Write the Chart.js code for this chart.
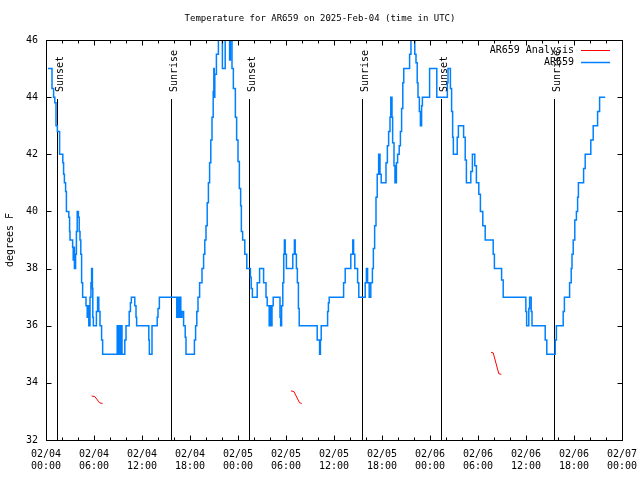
<!DOCTYPE html>
<html>
<head>
<meta charset="utf-8">
<title>Temperature for AR659</title>
<script src="https://cdn.jsdelivr.net/npm/chart.js@4.4.0/dist/chart.umd.min.js"></script>
<style>
html, body { margin: 0; padding: 0; background: #fff; }
</style>
</head>
<body>
<canvas id="tempChart" width="640" height="480"></canvas>
<script>
// ---------- data (hours since 02/04 00:00 UTC) ----------
// AR659 observed temperature, value changes at each hour mark
var tempHours = [0.25, 0.75, 0.95, 1.1, 1.25, 1.42, 1.7, 2.1, 2.2, 2.3, 2.45, 2.55, 2.85, 2.95, 3.0, 3.33, 3.4, 3.5, 3.55, 3.7,
    3.8, 3.9, 4.05, 4.15, 4.25, 4.35, 4.45, 4.58, 5.0, 5.15, 5.25, 5.35, 5.5, 5.62, 5.7, 5.8, 5.85, 5.92, 6.3, 6.45,
    6.6, 6.75, 6.95, 7.08, 8.9, 9.0, 9.08, 9.17, 9.25, 9.33, 9.42, 9.5, 9.85, 10.0, 10.4, 10.55, 10.67, 11.1, 11.25, 11.33,
    12.85, 12.92, 13.25, 13.9, 14.0, 14.17, 16.35, 16.45, 16.6, 16.7, 16.85, 17.0, 17.2, 17.4, 17.5, 18.55, 18.7, 18.85, 19.0, 19.2,
    19.5, 19.7, 19.85, 20.0, 20.15, 20.3, 20.45, 20.6, 20.75, 20.9, 20.98, 21.03, 21.1, 21.3, 21.55, 22.05, 22.4, 22.95, 23.05, 23.25,
    23.42, 23.67, 23.83, 24.0, 24.17, 24.33, 24.42, 24.58, 24.85, 25.1, 25.55, 25.65, 25.8, 26.4, 26.7, 27.2, 27.5, 27.65, 27.9, 28.0,
    28.1, 28.25, 28.4, 29.25, 29.33, 29.45, 29.6, 29.72, 29.8, 29.9, 30.05, 30.85, 31.05, 31.15, 31.3, 31.42, 31.55, 31.65, 33.9, 34.2,
    34.3, 34.4, 35.2, 35.3, 35.4, 37.2, 37.4, 38.1, 38.35, 38.45, 38.6, 38.95, 39.1, 39.9, 40.05, 40.2, 40.4, 40.6, 40.8, 40.92,
    41.08, 41.25, 41.4, 41.58, 41.75, 41.9, 42.5, 42.67, 42.83, 43.0, 43.1, 43.25, 43.33, 43.5, 43.62, 43.8, 43.95, 44.15, 44.3, 44.45,
    44.6, 44.72, 45.45, 45.62, 46.1, 46.25, 46.4, 46.5, 46.67, 46.8, 46.95, 47.05, 47.95, 48.85, 50.17, 50.25, 50.55, 50.7, 50.83, 50.92,
    51.4, 51.55, 52.2, 52.4, 52.55, 53.1, 53.3, 53.6, 53.8, 54.1, 54.3, 54.6, 54.9, 55.9, 56.05, 56.95, 57.15, 59.98, 60.08, 60.35,
    60.45, 60.65, 60.75, 62.4, 62.6, 63.65, 63.8, 64.65, 64.8, 65.45, 65.65, 65.75, 65.9, 66.1, 66.3, 66.45, 66.55, 67.2, 67.4, 68.1,
    68.4, 68.95, 69.2, 69.9];
var tempValues = [45, 44.3, 44, 43.8, 43, 42.8, 42, 41.7, 41.3, 41, 40.7, 40, 39.8, 39.3, 39, 38.75, 38.3, 38.75, 38, 38.5,
    39.3, 40, 39.8, 39.3, 39, 38.5, 37.5, 37, 36.7, 36.3, 36.7, 36, 37, 37.5, 38, 37.3, 36.3, 36, 36.5, 37,
    36.5, 36, 35.5, 35, 36, 35, 36, 35, 36, 35, 36, 35, 35.5, 36, 36.5, 36.8, 37, 36.7, 36.3, 36,
    35.5, 35, 36, 36.3, 36.6, 37, 36.3, 37, 36.3, 37, 36.3, 36.5, 36, 35.6, 35, 35.5, 36, 36.5, 37, 37.5,
    38, 38.5, 39, 39.5, 40.3, 41, 41.7, 42.5, 43.3, 44.2, 45, 44, 44.8, 45.5, 46.5, 45, 46.5, 45.3, 46.5, 45,
    44.3, 43.3, 42.5, 41.75, 40.8, 40.2, 39.3, 39, 38.5, 38, 37.7, 37.3, 37, 37.5, 38, 37.5, 37, 36.7, 36, 36.7,
    36, 36.7, 37, 36.3, 36, 36.7, 37.5, 38.5, 39, 38.5, 38, 38.5, 39, 38.5, 38, 37.5, 36.6, 36, 35.5, 35,
    35.5, 36, 36.5, 36.8, 37, 37.5, 38, 38.5, 39, 38.5, 38, 37.5, 37, 37.5, 38, 37.5, 37, 37.5, 38, 38.7,
    39.5, 40.5, 41.3, 42, 41.3, 41, 41.7, 42.3, 42.8, 43.3, 44, 43.3, 42.4, 41.6, 41, 41.7, 42, 42.3, 42.8, 43.6,
    44.5, 45, 45.5, 46.5, 45.5, 45.2, 44.5, 44, 43.5, 43, 43.7, 44, 45, 44, 44.5, 45, 44.3, 43.5, 42.6, 42,
    42.6, 43, 42.6, 41.8, 41, 41.4, 42, 41.6, 41, 40.6, 40, 39.5, 39, 38.5, 38, 37.6, 37, 36.5, 36, 36.6,
    37, 36.5, 36, 35.5, 35, 35.5, 36, 36.5, 37, 37.5, 38, 38.5, 39, 39.7, 40, 40.5, 41, 41.5, 42, 42.5,
    43, 43.5, 44, 44];

// AR659 Analysis (three short pieces, null = gap)
var analysisHours = [5.71, 6.1, 6.7, 7.08, 7.1, 30.63, 31.0, 31.7, 31.96, 32.0, 55.63, 55.9, 56.6, 56.92];
var analysisValues = [33.54, 33.52, 33.3, 33.28, null, 33.72, 33.69, 33.3, 33.28, null, 35.07, 35.05, 34.32, 34.3];

// sun events
var sunsetHours = [1.41, 25.41, 49.41];
var sunriseHours = [15.66, 39.54, 63.54];

// x tick labels (every 6 hours)
var xDateLabels = ['02/04', '02/04', '02/04', '02/04', '02/05', '02/05', '02/05', '02/05', '02/06', '02/06', '02/06', '02/06', '02/07'];
var xTimeLabels = ['00:00', '06:00', '12:00', '18:00', '00:00', '06:00', '12:00', '18:00', '00:00', '06:00', '12:00', '18:00', '00:00'];

var FONT = '"DejaVu Sans Mono", "Liberation Mono", monospace';
var BLUE = 'rgb(0,128,255)';
var RED = 'rgb(255,0,0)';

function toPoints(xs, ys) {
    var out = [];
    for (var i = 0; i < xs.length; i++) {
        out.push({x: xs[i], y: ys[i]});
    }
    return out;
}

function crisp(v) {
    return Math.round(v) + 0.5;
}

//-------- gnuplot look: box, inward ticks, sun lines, legend, title --------
var gnuplotDecor = {
    id: 'gnuplotDecor',
    beforeDatasetsDraw: function (chart) {
        var ctx = chart.ctx;
        var a = chart.chartArea;
        var xs = chart.scales.x;
        ctx.save();
        ctx.strokeStyle = '#000';
        ctx.lineWidth = 1;
        var all = sunsetHours.concat(sunriseHours);
        for (var i = 0; i < all.length; i++) {
            var px = crisp(xs.getPixelForValue(all[i]));
            ctx.beginPath();
            ctx.moveTo(px, 99);
            ctx.lineTo(px, a.bottom);
            ctx.stroke();
        }
        ctx.restore();
    },
    afterDraw: function (chart) {
        var ctx = chart.ctx;
        var a = chart.chartArea;
        var xs = chart.scales.x, ys = chart.scales.y;
        var L = crisp(a.left), R = crisp(a.right), T = crisp(a.top), B = crisp(a.bottom);
        ctx.save();
        ctx.strokeStyle = '#000';
        ctx.lineWidth = 1;
        ctx.strokeRect(L, T, R - L, B - T);

        // x ticks (major every 6h, minor every 2h), pointing inward top and bottom
        ctx.beginPath();
        for (var h = 0; h <= 72; h += 2) {
            var px = crisp(xs.getPixelForValue(h));
            var len = (h % 6 === 0) ? 5 : 3;
            ctx.moveTo(px, B); ctx.lineTo(px, B - len);
            ctx.moveTo(px, T); ctx.lineTo(px, T + len);
        }
        // y ticks every 2 degrees, left and right
        for (var v = 32; v <= 46; v += 2) {
            var py = crisp(ys.getPixelForValue(v));
            ctx.moveTo(L, py); ctx.lineTo(L + 5, py);
            ctx.moveTo(R, py); ctx.lineTo(R - 5, py);
        }
        ctx.stroke();

        ctx.fillStyle = '#000';

        // title
        ctx.font = '9px ' + FONT;
        ctx.textAlign = 'center';
        ctx.textBaseline = 'middle';
        ctx.fillText('Temperature for AR659 on 2025-Feb-04 (time in UTC)', 320, 19);

        ctx.font = '10px ' + FONT;
        // sunrise / sunset labels, rotated
        var drawSun = function (hour, txt) {
            var px = xs.getPixelForValue(hour);
            ctx.save();
            ctx.translate(Math.round(px) + 6, 92);
            ctx.rotate(-Math.PI / 2);
            ctx.textAlign = 'left';
            ctx.textBaseline = 'alphabetic';
            ctx.fillText(txt, 0, 0);
            ctx.restore();
        };
        for (var i = 0; i < sunsetHours.length; i++) drawSun(sunsetHours[i], 'Sunset');
        for (var j = 0; j < sunriseHours.length; j++) drawSun(sunriseHours[j], 'Sunrise');

        // legend (top right, inside the box)
        ctx.textAlign = 'right';
        ctx.textBaseline = 'middle';
        ctx.fillText('AR659 Analysis', 574, 50);
        ctx.fillText('AR659', 574, 62);
        ctx.strokeStyle = RED;
        ctx.beginPath(); ctx.moveTo(581, 50.5); ctx.lineTo(610, 50.5); ctx.stroke();
        ctx.strokeStyle = BLUE;
        ctx.lineWidth = 1.5;
        ctx.beginPath(); ctx.moveTo(581, 62.5); ctx.lineTo(610, 62.5); ctx.stroke();
        ctx.restore();
    }
};

function BuildTempChart() {
    var ctx = document.getElementById('tempChart').getContext('2d');
    var myChart = new Chart(ctx, {
        type: 'line',
        data: {
            datasets: [{
                label: 'AR659 Analysis',
                data: toPoints(analysisHours, analysisValues),
                borderColor: RED,
                borderWidth: 1,
                pointRadius: 0,
                spanGaps: false,
                fill: false
            }, {
                label: 'AR659',
                data: toPoints(tempHours, tempValues),
                borderColor: BLUE,
                borderWidth: 1.5,
                pointRadius: 0,
                stepped: true,
                fill: false
            }]
        },
        options: {
            responsive: false,
            animation: false,
            events: [],
            layout: { padding: { top: 40, right: 18, left: 0, bottom: 0 } },
            plugins: {
                legend: { display: false },
                tooltip: { enabled: false },
                title: { display: false }
            },
            scales: {
                x: {
                    type: 'linear',
                    min: 0,
                    max: 72,
                    grid: { display: false, drawTicks: false },
                    border: { display: false },
                    afterFit: function (s) {
                        s.height = 40;
                        s.paddingLeft = 0;
                        s.paddingRight = 0;
                    },
                    ticks: {
                        stepSize: 6,
                        autoSkip: false,
                        maxRotation: 0,
                        padding: 8,
                        color: '#000',
                        font: { family: FONT, size: 10, lineHeight: 1.2 },
                        callback: function (v) {
                            var i = Math.round(v / 6);
                            return [xDateLabels[i], xTimeLabels[i]];
                        }
                    }
                },
                y: {
                    min: 32,
                    max: 46,
                    grid: { display: false, drawTicks: false },
                    border: { display: false },
                    afterFit: function (s) { s.width = 46; },
                    title: {
                        display: true,
                        text: 'degrees F',
                        color: '#000',
                        font: { family: FONT, size: 10 },
                        padding: { top: 4, bottom: 0 }
                    },
                    ticks: {
                        stepSize: 2,
                        padding: 8,
                        color: '#000',
                        font: { family: FONT, size: 10 }
                    }
                }
            }
        },
        plugins: [gnuplotDecor]
    });
    return myChart;
}

BuildTempChart();
</script>
</body>
</html>
